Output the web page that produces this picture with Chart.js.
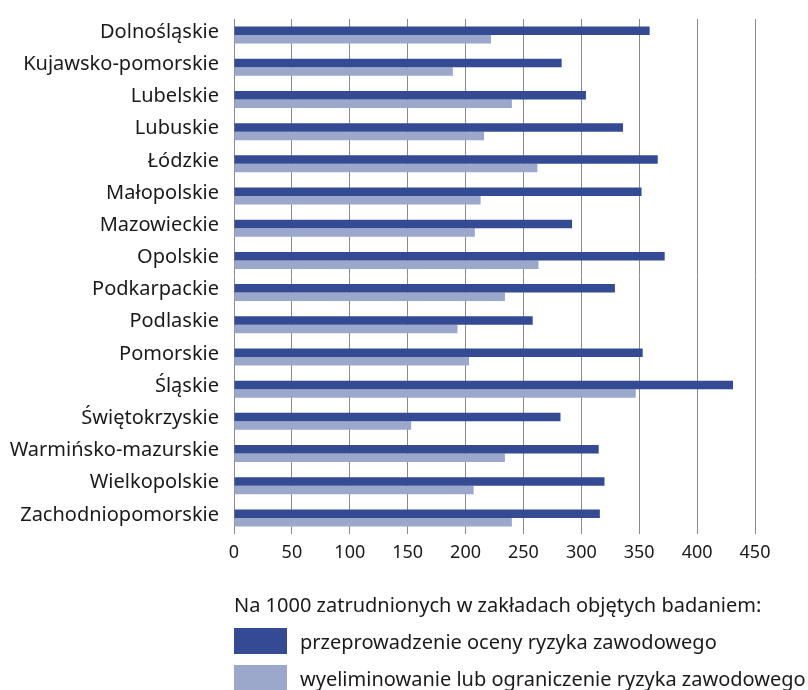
<!DOCTYPE html>
<html lang="pl">
<head>
<meta charset="utf-8">
<script src="https://cdn.jsdelivr.net/npm/chart.js@4"></script>
<style>
	body { margin: 0; background: #fff; }
	#wrap { position: relative; width: 808px; height: 690px; }
	#legend { position: absolute; left: 234px; top: 592px; font-family: "Noto Sans", sans-serif; font-size: 20px; color: #1a1a1a; }
	#legend .title { height: 26px; line-height: 26px; margin-bottom: 10px; }
	#legend .item { display: flex; align-items: center; height: 26px; margin-bottom: 11px; white-space: nowrap; }
	#legend .box { width: 53px; height: 26px; margin-right: 13px; }
</style>
</head>
<body>
<div id="wrap">
	<canvas id="riskChart" width="808" height="690"></canvas>
	<div id="legend"></div>
</div>
<script>
const regions = [
	'Dolnośląskie', 'Kujawsko-pomorskie', 'Lubelskie', 'Lubuskie', 'Łódzkie',
	'Małopolskie', 'Mazowieckie', 'Opolskie', 'Podkarpackie', 'Podlaskie',
	'Pomorskie', 'Śląskie', 'Świętokrzyskie', 'Warmińsko-mazurskie',
	'Wielkopolskie', 'Zachodniopomorskie'
];

// przeprowadzenie oceny ryzyka zawodowego
const assessed = [359, 283, 304, 336, 366, 352, 292, 372, 329, 258, 353, 431, 282, 315, 320, 316];
// wyeliminowanie lub ograniczenie ryzyka zawodowego
const reduced = [222, 189, 240, 216, 262, 213, 208, 263, 234, 193, 203, 347, 153, 234, 207, 240];

const xTicks = [0, 50, 100, 150, 200, 250, 300, 350, 400, 450];

const legendTitle = 'Na 1000 zatrudnionych w zakładach objętych badaniem:';
const seriesNames = ['przeprowadzenie oceny ryzyka zawodowego', 'wyeliminowanie lub ograniczenie ryzyka zawodowego'];
const seriesColors = ['#344b93', '#9ba8cb'];

const font = { family: '"Noto Sans", sans-serif' };

const ctx = document.getElementById('riskChart').getContext('2d');
new Chart(ctx, {
	type: 'bar',
	data: {
		labels: regions,
		datasets: [
			{ label: seriesNames[0], data: assessed, backgroundColor: seriesColors[0] },
			{ label: seriesNames[1], data: reduced, backgroundColor: seriesColors[1] }
		]
	},
	options: {
		indexAxis: 'y',
		responsive: false,
		animation: false,
		layout: { padding: { top: 10, right: 53, bottom: 0, left: 0 } },
		datasets: { bar: { barPercentage: 1, categoryPercentage: 0.53 } },
		scales: {
			x: {
				min: 0,
				max: 450,
				afterBuildTicks: scale => { scale.ticks = xTicks.map(v => ({ value: v })); },
				afterFit: scale => { scale.height = 156; },
				grid: { color: '#8a8a8a', lineWidth: 1, drawTicks: false },
				border: { display: false },
				ticks: { color: '#1a1a1a', font: { ...font, size: 18 }, padding: 8 }
			},
			y: {
				afterFit: scale => { scale.width = 234; },
				grid: { display: false },
				border: { display: false },
				ticks: { color: '#1a1a1a', font: { ...font, size: 20 }, padding: 7, labelOffset: -3 }
			}
		},
		plugins: {
			legend: { display: false },
			tooltip: { enabled: false }
		}
	}
});

// legenda pod wykresem
const legend = document.getElementById('legend');
legend.innerHTML = '<div class="title">' + legendTitle + '</div>' +
	seriesNames.map((name, i) =>
		'<div class="item"><span class="box" style="background:' + seriesColors[i] + '"></span>' + name + '</div>'
	).join('');
</script>
</body>
</html>
